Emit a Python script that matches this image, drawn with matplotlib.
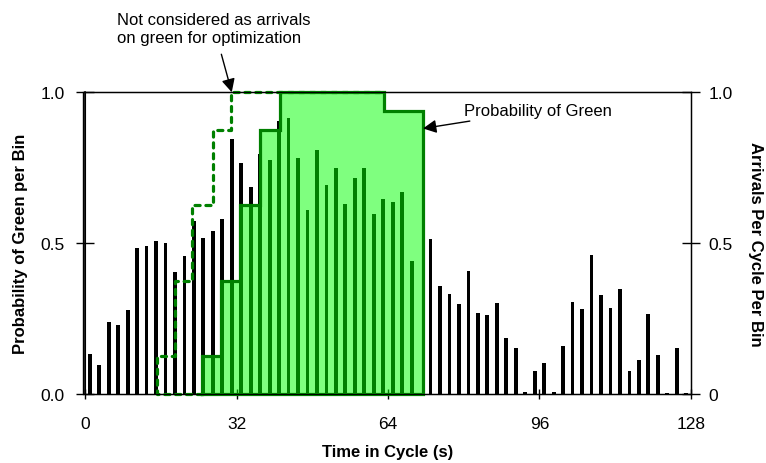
import matplotlib
matplotlib.use("Agg")
import matplotlib.pyplot as plt
import numpy as np

plt.rcParams['font.family'] = ['Liberation Sans', 'DejaVu Sans']

# Arrivals per cycle per bin (2-s bins, centred on odd seconds)
bin_centers = list(range(1, 128, 2))
arrivals = [0.133, 0.096, 0.238, 0.230, 0.278, 0.484, 0.492, 0.506, 0.499, 0.403,
            0.456, 0.572, 0.518, 0.541, 0.580, 0.845, 0.766, 0.685, 0.796, 0.776,
            0.906, 0.914, 0.782, 0.611, 0.809, 0.693, 0.748, 0.631, 0.716, 0.748,
            0.596, 0.646, 0.635, 0.668, 0.440, 0.000, 0.514, 0.359, 0.331, 0.297,
            0.406, 0.270, 0.262, 0.300, 0.185, 0.154, 0.006, 0.075, 0.103, 0.006,
            0.160, 0.305, 0.282, 0.460, 0.328, 0.285, 0.347, 0.075, 0.114, 0.265,
            0.129, 0.003, 0.154, 0.003]

# Probability of green (step function): edges and levels
green_edges = [24.7, 28.8, 32.7, 36.9, 41.1, 63.2, 71.3]
green_levels = [0.125, 0.375, 0.625, 0.875, 1.0, 0.9375]

# Dashed outline (not considered as arrivals on green)
dash_edges = [15.2, 19.0, 22.7, 27.1, 30.9, 63.2]
dash_levels = [0.125, 0.375, 0.625, 0.875, 1.0]

x_ticks = [0, 32, 64, 96, 128]

fig = plt.figure(figsize=(7.66, 4.64), dpi=100)
ax = fig.add_axes([0.111, 0.1487, 0.791, 0.6503])

ax.bar(bin_centers, arrivals, width=0.8, color='black', zorder=2)

# green polygon
gx = [green_edges[0]]
gy = [0]
for i, lv in enumerate(green_levels):
    gx += [green_edges[i], green_edges[i + 1]]
    gy += [lv, lv]
gx.append(green_edges[-1]); gy.append(0)
ax.fill(gx, gy, color=(0, 1, 0), alpha=0.5, lw=0, zorder=3)
ax.plot(gx + [gx[0]], gy + [gy[0]], color='#008000', lw=2.3, zorder=5,
        solid_joinstyle='miter', clip_on=False)

# dashed polygon
dx = [green_edges[0], dash_edges[0]]
dy = [0, 0]
for i, lv in enumerate(dash_levels):
    dx += [dash_edges[i], dash_edges[i + 1]]
    dy += [lv, lv]
ax.plot(dx, dy, color='#008000', lw=2.3, linestyle=(0, (1.6, 1.8)),
        dash_capstyle='round', zorder=4, clip_on=False)

ax.set_xlim(0, 128)
ax.set_ylim(0, 1.0)
ax.set_xticks(x_ticks)
ax.set_xticklabels([str(v) for v in x_ticks])
ax.set_yticks([0, 0.5, 1.0])
ax.set_yticklabels(['0.0', '0.5', '1.0'])
ax.tick_params(axis='y', direction='inout', length=13, width=1, labelsize=12.5, pad=8)
ax.tick_params(axis='x', direction='inout', length=7, width=1, labelsize=12.5, pad=12)
for s in ax.spines.values():
    s.set_linewidth(1)
ax.spines['left'].set_linewidth(1.2)
ax.axvline(-0.5, color='black', lw=1, clip_on=False, zorder=6)

ax2 = ax.twinx()
ax2.set_ylim(0, 1.0)
ax2.set_yticks([0, 0.5, 1.0])
ax2.set_yticklabels(['0', '0.5', '1.0'])
ax2.tick_params(axis='y', direction='inout', length=13, width=1, labelsize=12.5, pad=6)

ax.set_xlabel('Time in Cycle (s)', fontsize=12, fontweight='bold', labelpad=10)
ax.set_ylabel('Probability of Green per Bin', fontsize=12, fontweight='bold', labelpad=9)
ax2.set_ylabel('Arrivals Per Cycle Per Bin', fontsize=12, fontweight='bold',
               rotation=-90, labelpad=22)

ax.annotate('Probability of Green', xy=(71.4, 0.88), xytext=(80, 0.94),
            fontsize=12, va='center', ha='left',
            arrowprops=dict(arrowstyle='-|>', color='black', lw=1,
                            mutation_scale=20, shrinkA=2, shrinkB=0),
            zorder=10)
ax.text(6.8, 1.155, 'Not considered as arrivals\non green for optimization',
        fontsize=12, va='bottom', ha='left', linespacing=1.3, clip_on=False)
ax.annotate('', xy=(31.0, 1.0), xytext=(28.8, 1.126), annotation_clip=False,
            arrowprops=dict(arrowstyle='-|>', color='black', lw=1,
                            mutation_scale=20, shrinkA=0, shrinkB=0),
            zorder=10)

fig.savefig('out.png', dpi=100)
